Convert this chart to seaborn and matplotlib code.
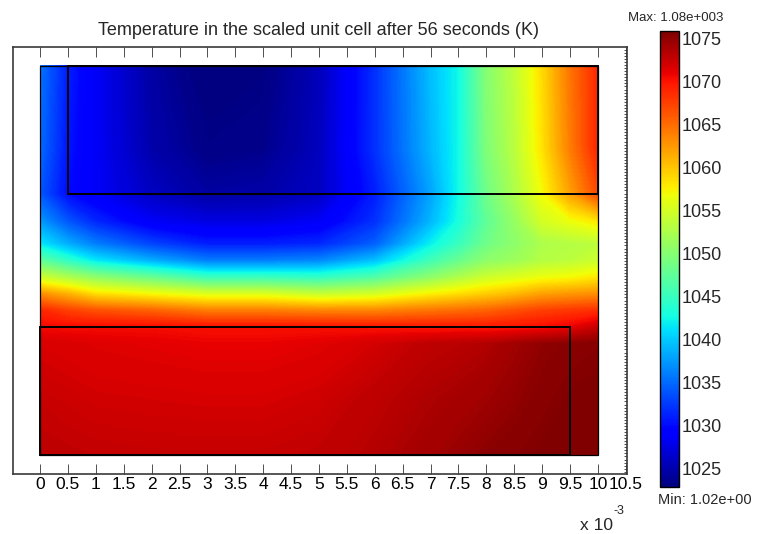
import numpy as np
import matplotlib
matplotlib.use("Agg")
import matplotlib.pyplot as plt
import seaborn as sns
from matplotlib.colors import Normalize
from matplotlib.cm import ScalarMappable

# ---------------- data ----------------
title = "Temperature in the scaled unit cell after 56 seconds (K)"
max_label = "Max: 1.08e+003"
min_label = "Min: 1.02e+00"

# node positions (x 10^-3 m)
x_nodes = [0, 0.5, 1, 2, 3, 4, 5, 6, 7, 7.5, 8, 8.5, 9, 9.5, 10]
y_nodes = [0, 1, 2, 2.3, 2.6, 2.9, 3.2, 3.5, 3.8, 4.2, 4.7, 5.5, 7]

# temperature (K) at the nodes, one list per row (bottom -> top)
temp_y0_0 = [1072.9, 1072.8, 1072.7, 1072.6, 1072.6, 1072.6, 1072.8, 1073.4, 1074.2, 1074.7, 1075.2, 1075.5, 1075.8, 1076.0, 1076.0]
temp_y1_0 = [1072.5, 1072.3, 1072.1, 1072.0, 1071.9, 1071.9, 1072.2, 1073.0, 1073.7, 1074.0, 1074.4, 1074.9, 1075.4, 1075.8, 1076.0]
temp_y2_0 = [1071.8, 1071.6, 1071.4, 1071.2, 1071.0, 1071.0, 1071.3, 1072.0, 1073.0, 1073.2, 1073.5, 1074.3, 1075.0, 1075.3, 1075.5]
temp_y2_3 = [1070.5, 1070.5, 1070.5, 1070.5, 1070.2, 1070.2, 1070.2, 1070.0, 1069.8, 1069.8, 1069.8, 1070.0, 1070.3, 1071.0, 1072.5]
temp_y2_6 = [1069.0, 1067.5, 1066.5, 1065.5, 1064.0, 1064.0, 1063.5, 1063.5, 1064.5, 1065.0, 1065.5, 1066.5, 1067.5, 1068.0, 1068.5]
temp_y2_9 = [1063.0, 1061.0, 1058.5, 1057.0, 1055.5, 1055.5, 1054.0, 1055.0, 1057.5, 1058.5, 1059.5, 1060.5, 1062.0, 1062.5, 1063.0]
temp_y3_2 = [1054.5, 1052.5, 1050.5, 1048.0, 1045.0, 1045.0, 1044.5, 1046.5, 1050.5, 1052.5, 1054.5, 1055.5, 1056.5, 1057.0, 1058.0]
temp_y3_5 = [1047.5, 1044.5, 1041.5, 1038.5, 1036.0, 1036.0, 1036.5, 1039.5, 1045.5, 1048.0, 1050.5, 1051.5, 1053.0, 1053.5, 1054.5]
temp_y3_8 = [1041.5, 1038.5, 1036.0, 1033.0, 1031.0, 1031.0, 1031.5, 1034.5, 1042.0, 1045.0, 1048.5, 1050.5, 1052.5, 1053.0, 1053.5]
temp_y4_2 = [1037.5, 1034.0, 1031.5, 1028.5, 1027.5, 1027.5, 1028.5, 1032.0, 1039.0, 1043.0, 1047.5, 1051.0, 1055.0, 1056.5, 1058.0]
temp_y4_7 = [1034.0, 1030.0, 1028.5, 1026.0, 1024.5, 1024.8, 1026.0, 1031.0, 1038.0, 1042.5, 1048.5, 1052.5, 1057.0, 1062.0, 1067.0]
temp_y5_5 = [1035.0, 1030.5, 1028.5, 1025.0, 1023.3, 1023.6, 1025.8, 1032.0, 1039.0, 1042.5, 1049.5, 1053.3, 1058.3, 1064.0, 1069.0]
temp_y7_0 = [1035.5, 1031.0, 1028.5, 1024.6, 1022.5, 1023.0, 1025.6, 1032.0, 1039.4, 1042.5, 1050.0, 1053.7, 1058.8, 1064.5, 1069.0]

# sub-domain outlines (x 10^-3 m)
domain_x = [0, 10]
domain_y = [0, 7]
top_block_x = [0.5, 10]
top_block_y = [4.7, 7]
bottom_block_x = [0, 9.5]
bottom_block_y = [0, 2.3]

x_ticks = [0, 0.5, 1, 1.5, 2, 2.5, 3, 3.5, 4, 4.5, 5, 5.5, 6, 6.5, 7, 7.5, 8, 8.5, 9, 9.5, 10, 10.5]
x_tick_labels = ["0", "0.5", "1", "1.5", "2", "2.5", "3", "3.5", "4", "4.5", "5", "5.5",
                 "6", "6.5", "7", "7.5", "8", "8.5", "9", "9.5", "10", "10.5"]
cbar_ticks = [1025, 1030, 1035, 1040, 1045, 1050, 1055, 1060, 1065, 1070, 1075]
cbar_min, cbar_max = 1022.9, 1075.9

# ---------------- style ----------------
sns.set_style("white")
plt.rcParams["font.family"] = ["Liberation Sans", "DejaVu Sans"]
cmap = matplotlib.colormaps["jet"]

W, H = 757, 534
fig = plt.figure(figsize=(W / 100, H / 100), dpi=100)
fig.patch.set_facecolor("white")

ax = fig.add_axes([13 / W, 1 - 474 / H, (627 - 13) / W, (474 - 47) / H])
cax = fig.add_axes([660 / W, 1 - 487 / H, 19 / W, (487 - 31) / H])

temps = np.array([temp_y0_0, temp_y1_0, temp_y2_0, temp_y2_3, temp_y2_6, temp_y2_9,
                  temp_y3_2, temp_y3_5, temp_y3_8, temp_y4_2, temp_y4_7, temp_y5_5, temp_y7_0])
X, Y = np.meshgrid(x_nodes, y_nodes)
levels = np.linspace(cbar_min, cbar_max, 300)
cs = ax.contourf(X, Y, temps, levels=levels, cmap=cmap, extend="both", antialiased=False)

def outline(xs, ys, lw):
    ax.plot([xs[0], xs[1], xs[1], xs[0], xs[0]], [ys[0], ys[0], ys[1], ys[1], ys[0]],
            color="black", lw=lw, solid_joinstyle="miter")

outline(domain_x, domain_y, 0.9)
outline(top_block_x, top_block_y, 1.4)
outline(bottom_block_x, bottom_block_y, 1.4)

ax.set_xlim(-0.484, 10.52)
ax.set_ylim(-0.34, 7.34)
ax.set_facecolor("white")
ax.set_xticks(x_ticks)
ax.set_xticklabels(x_tick_labels, fontsize=12.5)
ax.set_yticks(np.arange(-0.3, 7.34, 0.055))
ax.tick_params(axis="x", direction="in", top=True, bottom=True, length=7, width=0.6,
               color="#333333", pad=2, labelcolor="black")
ax.tick_params(axis="y", direction="in", left=False, right=True, length=2, width=0.6,
               color="#333333", labelleft=False, labelright=False)
for s in ax.spines.values():
    s.set_visible(True)
    s.set_color("#3a3a3a")
    s.set_linewidth(1.2)

# colorbar
sm = ScalarMappable(norm=Normalize(cbar_min, cbar_max), cmap=cmap)
cb = fig.colorbar(sm, cax=cax)
cb.set_ticks(cbar_ticks)
cb.set_ticklabels([str(t) for t in cbar_ticks])
cax.tick_params(direction="in", left=True, right=True, length=3, width=0.6, color="black",
                labelsize=13, pad=2)
cb.outline.set_linewidth(1.0)
cb.outline.set_edgecolor("black")

# texts
fig.text(318 / W, 1 - 35 / H, title, ha="center", va="baseline", fontsize=13)
fig.text(676 / W, 1 - 18 / H, max_label, ha="center", va="center", fontsize=9.5)
fig.text(658 / W, 1 - 500 / H, min_label, ha="left", va="center", fontsize=10.5)
fig.text(580 / W, 1 - 530 / H, "x 10", ha="left", va="baseline", fontsize=12.5)
fig.text(613 / W, 1 - 514 / H, "-3", ha="left", va="baseline", fontsize=9)

fig.savefig("out.png", dpi=100, facecolor="white")
